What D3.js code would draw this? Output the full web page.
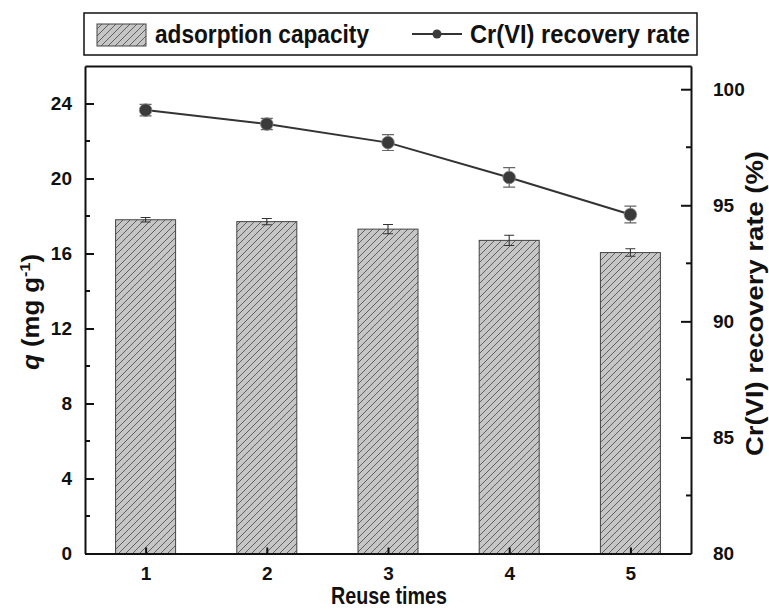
<!DOCTYPE html>
<html>
<head>
<meta charset="utf-8">
<script src="https://cdn.jsdelivr.net/npm/d3@7"></script>
<style>
  html, body { margin: 0; padding: 0; background: #fff; }
  svg { display: block; }
  text { font-family: "Liberation Sans", Arial, sans-serif; font-weight: bold; fill: #111; }
</style>
</head>
<body>
<svg id="chart" width="769" height="610"></svg>
<script>
// Reuse cycles and measured results
const reuse = [1, 2, 3, 4, 5];
const capacity = [17.8, 17.7, 17.3, 16.7, 16.05];       // q, mg g-1
const capacityErr = [0.12, 0.17, 0.25, 0.27, 0.2];
const recovery = [99.1, 98.5, 97.7, 96.2, 94.6];         // Cr(VI) recovery, %
const recoveryErr = [0.25, 0.24, 0.34, 0.42, 0.36];

const leftTicks = [0, 4, 8, 12, 16, 20, 24];
const leftMinor = [2, 6, 10, 14, 18, 22];
const rightTicks = [80, 85, 90, 95, 100];
const rightMinor = [82.5, 87.5, 92.5, 97.5];

const svg = d3.select("#chart");
const L = 85, R = 691, T = 66, B = 553.5;

const x = d3.scaleLinear().domain([0.5, 5.5]).range([L, R]);
const yL = d3.scaleLinear().domain([0, 26]).range([B, T]);
const yR = d3.scaleLinear().domain([80, 101]).range([B, T]);
const barW = 60;

// diagonal hatch for the bars
const defs = svg.append("defs");
const pat = defs.append("pattern")
  .attr("id", "hatch").attr("patternUnits", "userSpaceOnUse")
  .attr("width", 7).attr("height", 7);
pat.append("rect").attr("width", 7).attr("height", 7).attr("fill", "#c6c6c6");
pat.append("path")
  .attr("d", "M-1.75,1.75 l3.5,-3.5 M0,7 l7,-7 M5.25,8.75 l3.5,-3.5")
  .attr("stroke", "#555").attr("stroke-width", 0.9);

// bars
svg.append("g").selectAll("rect").data(reuse).join("rect")
  .attr("x", (d) => x(d) - barW / 2)
  .attr("width", barW)
  .attr("y", (d, i) => yL(capacity[i]))
  .attr("height", (d, i) => yL(0) - yL(capacity[i]))
  .attr("fill", "url(#hatch)")
  .attr("stroke", "#444").attr("stroke-width", 1);

// bar error bars
const eb = svg.append("g").attr("stroke", "#333").attr("stroke-width", 1.1).attr("fill", "none");
reuse.forEach((d, i) => {
  const cx = x(d), y1 = yL(capacity[i] - capacityErr[i]), y2 = yL(capacity[i] + capacityErr[i]);
  eb.append("path").attr("d", `M${cx},${y1}V${y2}M${cx - 5},${y1}h10M${cx - 5},${y2}h10`);
});

// recovery line
svg.append("path")
  .datum(reuse)
  .attr("d", d3.line().x((d) => x(d)).y((d, i) => yR(recovery[i])))
  .attr("fill", "none").attr("stroke", "#333").attr("stroke-width", 2);

const le = svg.append("g").attr("stroke", "#666").attr("stroke-width", 1.2).attr("fill", "none");
reuse.forEach((d, i) => {
  const cx = x(d), y1 = yR(recovery[i] - recoveryErr[i]), y2 = yR(recovery[i] + recoveryErr[i]);
  le.append("path").attr("d", `M${cx},${y1}V${y2}M${cx - 6},${y1}h12M${cx - 6},${y2}h12`);
});

svg.append("g").selectAll("circle").data(reuse).join("circle")
  .attr("cx", (d) => x(d)).attr("cy", (d, i) => yR(recovery[i]))
  .attr("r", 6.3).attr("fill", "#3a3a3a").attr("stroke", "#888").attr("stroke-width", 0.8);

// axes
const fs = "19px";
const axL = svg.append("g").attr("transform", `translate(${L},0)`)
  .call(d3.axisLeft(yL).tickValues(leftTicks).tickSizeInner(-9).tickSizeOuter(0).tickPadding(13).tickFormat(d3.format("d")));
axL.append("g").selectAll("line").data(leftMinor).join("line")
  .attr("x1", 0).attr("x2", 5).attr("y1", (d) => yL(d)).attr("y2", (d) => yL(d))
  .attr("stroke", "#111").attr("stroke-width", 2);

const axR = svg.append("g").attr("transform", `translate(${R},0)`)
  .call(d3.axisRight(yR).tickValues(rightTicks).tickSizeInner(-10).tickSizeOuter(0).tickPadding(26).tickFormat(d3.format("d")));
axR.append("g").selectAll("line").data(rightMinor).join("line")
  .attr("x1", 0).attr("x2", -5).attr("y1", (d) => yR(d)).attr("y2", (d) => yR(d))
  .attr("stroke", "#111").attr("stroke-width", 2);

const axB = svg.append("g").attr("transform", `translate(0,${B})`)
  .call(d3.axisBottom(x).tickValues(reuse).tickSizeInner(-6).tickSizeOuter(0).tickPadding(13).tickFormat(d3.format("d")));

const axT = svg.append("g").attr("transform", `translate(0,${T})`)
  .call(d3.axisTop(x).tickValues([]).tickSizeOuter(0));

[axL, axR, axB, axT].forEach((g) => {
  g.selectAll(".domain").attr("stroke", "#111").attr("stroke-width", 2);
  g.selectAll(".tick line").attr("stroke", "#111").attr("stroke-width", 2);
  g.selectAll(".tick text").attr("font-size", fs).attr("font-family", "Liberation Sans, Arial, sans-serif")
    .attr("font-weight", "bold").attr("fill", "#111");
});
axR.selectAll(".tick text").attr("x", 22);

// axis titles (narrow, tall lettering)
svg.append("text").attr("x", 331).attr("y", 604)
  .attr("font-size", "24px").attr("textLength", 116).attr("lengthAdjust", "spacingAndGlyphs")
  .text("Reuse times");

const qTitle = svg.append("text").attr("transform", `translate(39,370) rotate(-90)`)
  .attr("font-size", "24px").attr("textLength", 116).attr("lengthAdjust", "spacingAndGlyphs");
qTitle.append("tspan").attr("font-style", "italic").text("q");
qTitle.append("tspan").text(" (mg g");
qTitle.append("tspan").attr("font-size", "15px").attr("dy", -9).text("-1");
qTitle.append("tspan").attr("dy", 9).text(")");

svg.append("text").attr("transform", `translate(763,456) rotate(-90)`)
  .attr("font-size", "24px").attr("textLength", 305).attr("lengthAdjust", "spacingAndGlyphs")
  .text("Cr(VI) recovery rate (%)");

// legend
const lg = svg.append("g");
lg.append("rect").attr("x", 84).attr("y", 13).attr("width", 613).attr("height", 42)
  .attr("fill", "#fff").attr("stroke", "#111").attr("stroke-width", 1.5);
lg.append("rect").attr("x", 97).attr("y", 24).attr("width", 49).attr("height", 22)
  .attr("fill", "url(#hatch)").attr("stroke", "#444").attr("stroke-width", 1);
lg.append("text").attr("x", 155).attr("y", 43).attr("font-size", "26px")
  .attr("textLength", 214).attr("lengthAdjust", "spacingAndGlyphs").text("adsorption capacity");
lg.append("line").attr("x1", 412).attr("x2", 462).attr("y1", 34).attr("y2", 34)
  .attr("stroke", "#333").attr("stroke-width", 2);
lg.append("circle").attr("cx", 437).attr("cy", 34).attr("r", 4.5).attr("fill", "#3a3a3a");
lg.append("text").attr("x", 470).attr("y", 43).attr("font-size", "26px")
  .attr("textLength", 220).attr("lengthAdjust", "spacingAndGlyphs").text("Cr(VI) recovery rate");
</script>
</body>
</html>
